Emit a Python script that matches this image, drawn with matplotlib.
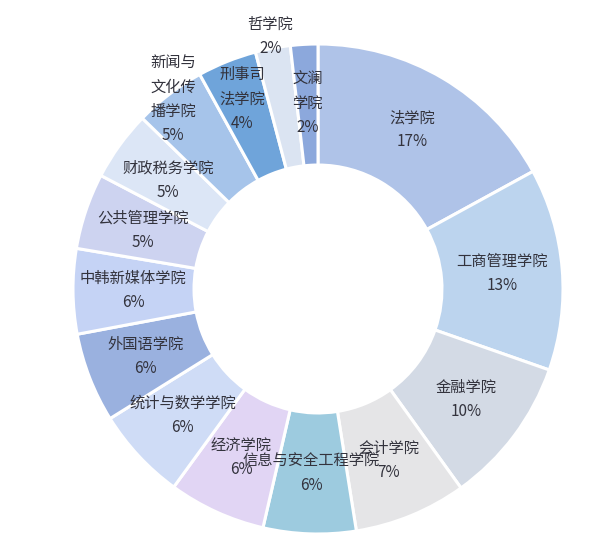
import matplotlib
matplotlib.use("Agg")
import matplotlib.pyplot as plt
import numpy as np

plt.rcParams['font.family'] = ['Noto Sans CJK SC', 'DejaVu Sans']

# Data (clockwise from 12 o'clock)
schools = ["法学院", "工商管理学院", "金融学院", "会计学院", "信息与安全工程学院",
           "经济学院", "统计与数学学院", "外国语学院", "中韩新媒体学院", "公共管理学院",
           "财政税务学院", "新闻与文化传播学院", "刑事司法学院", "哲学院", "文澜学院"]
label_text = ["法学院", "工商管理学院", "金融学院", "会计学院", "信息与安全工程学院",
              "经济学院", "统计与数学学院", "外国语学院", "中韩新媒体学院", "公共管理学院",
              "财政税务学院", "新闻与\n文化传\n播学院", "刑事司\n法学院", "哲学院", "文澜\n学院"]
shares = [17.0, 13.3, 9.7, 7.4, 6.1, 6.4, 6.1, 5.9, 5.6, 5.0, 4.6, 4.7, 3.9, 2.3, 1.8]

colors = ["#AFC3E8", "#BCD4EE", "#D3DAE5", "#E5E5E7", "#9DCBDF",
          "#E1D5F4", "#CFDCF6", "#9AB1DF", "#C5D3F5", "#CDD3F0",
          "#DCE6F6", "#A6C4EA", "#6FA4DA", "#DBE4F2", "#8CA8DC"]
label_dist = [0.755, 0.755, 0.755, 0.755, 0.755, 0.755, 0.755, 0.755, 0.755, 0.755,
              0.755, 0.975, 0.835, 1.05, 0.76]

W, H = 600, 552
fig = plt.figure(figsize=(W / 100, H / 100), dpi=100)
cx, cy, R = 318, 289, 245
ax = fig.add_axes([(cx - R) / W, (H - cy - R) / H, 2 * R / W, 2 * R / H])

wedges, _ = ax.pie(shares, colors=colors, startangle=90, counterclock=False,
                   radius=1.0,
                   wedgeprops=dict(width=0.494, edgecolor="white", linewidth=2.2))

total = sum(shares)
for w, name, val, d in zip(wedges, label_text, shares, label_dist):
    ang = np.deg2rad((w.theta1 + w.theta2) / 2)
    x, y = d * np.cos(ang), d * np.sin(ang)
    ax.text(x, y, f"{name}\n{val / total * 100:.0f}%", ha="center", va="center",
            fontsize=11, color="#33333D", linespacing=1.55)

ax.set_xlim(-1, 1)
ax.set_ylim(-1, 1)
ax.set_aspect("equal")
ax.axis("off")
fig.savefig("out.png", dpi=100, facecolor="white")
